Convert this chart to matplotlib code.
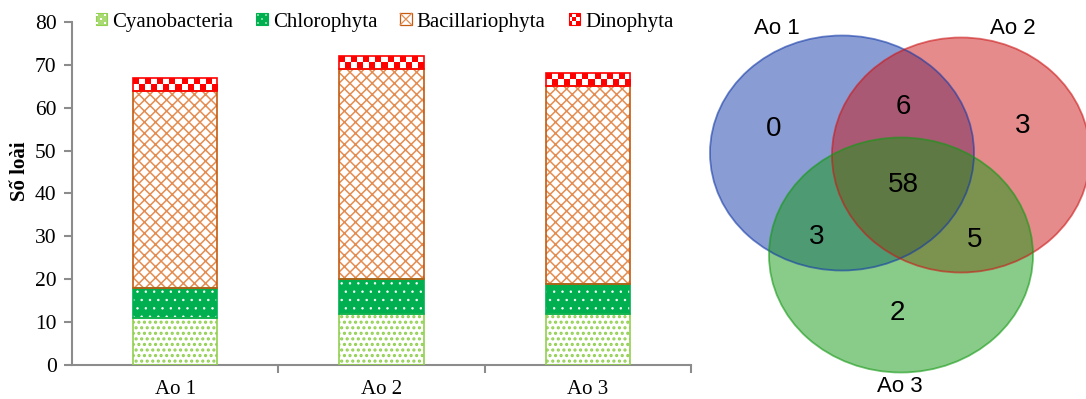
import matplotlib
matplotlib.use("Agg")
import matplotlib.pyplot as plt
from matplotlib.patches import Ellipse, Rectangle
from matplotlib.lines import Line2D
from matplotlib.colors import ListedColormap
from matplotlib.legend_handler import HandlerBase
import numpy as np

# ---- data ----
ponds = ["Ao 1", "Ao 2", "Ao 3"]
groups = ["Cyanobacteria", "Chlorophyta", "Bacillariophyta", "Dinophyta"]
cyanobacteria = [11, 12, 12]
chlorophyta = [7, 8, 7]
bacillariophyta = [46, 49, 46]
dinophyta = [3, 3, 3]
y_ticks = [0, 10, 20, 30, 40, 50, 60, 70, 80]
y_label = "Số loài"

venn_sets = ["Ao 1", "Ao 2", "Ao 3"]
# regions: only1, only2, only3, 1&2, 1&3, 2&3, all
venn_values = {"100": 0, "010": 3, "001": 2, "110": 6, "101": 3, "011": 5, "111": 58}

# ---- style ----
serif = ["Liberation Serif", "DejaVu Serif"]
sans = ["Liberation Sans", "DejaVu Sans"]
axis_grey = "#8c8c8c"

W, H = 1086, 399
fig = plt.figure(figsize=(W / 100, H / 100), dpi=100)

ax = fig.add_axes([72 / W, (H - 365) / H, (691 - 72) / W, (365 - 22) / H])
x = np.arange(len(ponds))
bw = 0.41

styles = [
    dict(face="white", hatch="...", hc="#92d050", edge="#92d050", hlw=1.5),
    dict(face="#00b050", hatch="..", hc="#ffffff", edge="#00b050", hlw=0.5),
    dict(face="white", hatch="xxx", hc="#e48d52", edge="#c55a11", hlw=1.1),
    dict(face="#ff0000", hatch=None, hc="#ff0000", edge="#ff0000", hlw=1.0),
]
series = [cyanobacteria, chlorophyta, bacillariophyta, dinophyta]
bottom = np.zeros(len(ponds))
containers = []
for name, vals, st in zip(groups, series, styles):
    vals = np.array(vals, dtype=float)
    with plt.rc_context({"hatch.linewidth": st["hlw"]}):
        b = ax.bar(x, vals, bw, bottom=bottom, color=st["face"], edgecolor=st["hc"],
                   hatch=st["hatch"], linewidth=0, label=name)
        for p in b.patches:
            if hasattr(p, "set_hatch_linewidth"):
                p.set_hatch_linewidth(st["hlw"])
    ax.bar(x, vals, bw, bottom=bottom, fill=False, edgecolor=st["edge"], linewidth=1.2, zorder=3)
    containers.append(b)
    bottom += vals

# checkerboard texture for Dinophyta segments
checker_cmap = ListedColormap(["white", "#ff0000"])
for p in containers[3].patches:
    x0, y0, w, h = p.get_x(), p.get_y(), p.get_width(), p.get_height()
    ncol = 14
    nrow = 2
    grid = (np.add.outer(np.arange(nrow), np.arange(ncol)) % 2 == 0).astype(int)
    im = ax.imshow(grid, cmap=checker_cmap, vmin=0, vmax=1, extent=(x0, x0 + w, y0, y0 + h),
                   aspect="auto", interpolation="nearest", zorder=2)
    im.set_clip_path(p)

ax.set_xlim(-0.5, 2.5)
ax.set_ylim(0, 80)
ax.set_yticks(y_ticks)
ax.set_xticks(x)
ax.set_xticklabels(ponds, fontfamily=serif, fontsize=15)
ax.set_xticks([0.5, 1.5, 2.5], minor=True)
ax.tick_params(axis="x", which="major", length=0, pad=11)
ax.tick_params(axis="x", which="minor", length=6, width=1.5, color=axis_grey, direction="out")
ax.tick_params(axis="y", length=6, width=1.5, color=axis_grey, direction="out", pad=5)
for lbl in ax.get_yticklabels():
    lbl.set_fontfamily(serif)
    lbl.set_fontsize(15.5)
ax.set_ylabel(y_label, fontfamily=serif, fontsize=15, fontweight="bold")
ax.yaxis.set_label_coords(-0.068, 0.565)
for s in ["top", "right"]:
    ax.spines[s].set_visible(False)
for s in ["left", "bottom"]:
    ax.spines[s].set_color(axis_grey)
    ax.spines[s].set_linewidth(1.5)


def _square(width, height, xdescent, ydescent):
    side = min(width, height)
    return -xdescent + (width - side) / 2, -ydescent + (height - side) / 2, side


class CheckerHandler(HandlerBase):
    def create_artists(self, legend, orig_handle, xdescent, ydescent, width, height, fontsize, trans):
        x0, y0, side = _square(width, height, xdescent, ydescent)
        n = 3
        s = side / n
        arts = []
        for i in range(n):
            for j in range(n):
                col = "#ff0000" if (i + j) % 2 == 0 else "white"
                arts.append(Rectangle((x0 + j * s, y0 + i * s), s, s, facecolor=col,
                                      edgecolor="none", transform=trans))
        arts.append(Rectangle((x0, y0), side, side, facecolor="none", edgecolor="#ff0000",
                              linewidth=0.8, transform=trans))
        return arts


class SquareHandler(HandlerBase):
    def __init__(self, face, inner, edge):
        super().__init__()
        self.face, self.inner, self.edge = face, inner, edge

    def create_artists(self, legend, orig_handle, xdescent, ydescent, width, height, fontsize, trans):
        x0, y0, side = _square(width, height, xdescent, ydescent)
        arts = [Rectangle((x0, y0), side, side, facecolor=self.face, edgecolor=self.edge,
                          linewidth=0.8, transform=trans)]
        s = side / 3
        for (i, j) in [(0, 0), (2, 0), (1, 1), (0, 2), (2, 2)]:
            arts.append(Rectangle((x0 + j * s + s * 0.25, y0 + i * s + s * 0.25), s * 0.5, s * 0.5,
                                  facecolor=self.inner, edgecolor="none", transform=trans))
        return arts


class CrossHandler(HandlerBase):
    def create_artists(self, legend, orig_handle, xdescent, ydescent, width, height, fontsize, trans):
        x0, y0, side = _square(width, height, xdescent, ydescent)
        arts = [Rectangle((x0, y0), side, side, facecolor="white", edgecolor="#c55a11",
                          linewidth=0.9, transform=trans)]
        arts.append(Line2D([x0, x0 + side], [y0, y0 + side], color="#e48d52", lw=0.9, transform=trans))
        arts.append(Line2D([x0, x0 + side], [y0 + side, y0], color="#e48d52", lw=0.9, transform=trans))
        return arts


leg = ax.legend(handles=containers, labels=groups, loc="center", ncol=4,
                bbox_to_anchor=(0.505, 1.0), frameon=False,
                prop={"family": serif, "size": 15},
                handlelength=0.55, handleheight=0.55, handletextpad=0.25,
                columnspacing=1.1,
                handler_map={containers[0]: SquareHandler("#a9da74", "white", "#92d050"),
                             containers[1]: SquareHandler("#00b050", "#7fd8a0", "#00b050"),
                             containers[2]: CrossHandler(),
                             containers[3]: CheckerHandler()})

# ---- Venn ----
av = fig.add_axes([700 / W, 0, (W - 700) / W, 1])
av.set_xlim(700, W)
av.set_ylim(H, 0)
av.axis("off")
ell = [
    ((842, 153), 264, 235, "#143aa8"),
    ((961, 155), 258, 235, "#cc1818"),
    ((901, 255), 264, 235, "#149914"),
]
for (c, w, h, fc) in ell:
    av.add_patch(Ellipse(c, w, h, facecolor=fc, edgecolor="none", alpha=0.5))
for (c, w, h, fc) in ell:
    av.add_patch(Ellipse(c, w, h, facecolor="none", edgecolor=fc, linewidth=1.3, alpha=0.6))

pos = {"100": (774, 129), "010": (1023, 126), "001": (897, 313),
       "110": (903, 107), "101": (817, 237), "011": (975, 240), "111": (903, 185)}
for k, v in venn_values.items():
    av.text(*pos[k], str(v), ha="center", va="center", fontsize=20, fontfamily=sans)
lab_pos = [(777, 28), (1013, 29), (900, 387)]
for name, p in zip(venn_sets, lab_pos):
    av.text(*p, name, ha="center", va="center", fontsize=16, fontfamily=sans)

fig.savefig("out.png", dpi=100)
